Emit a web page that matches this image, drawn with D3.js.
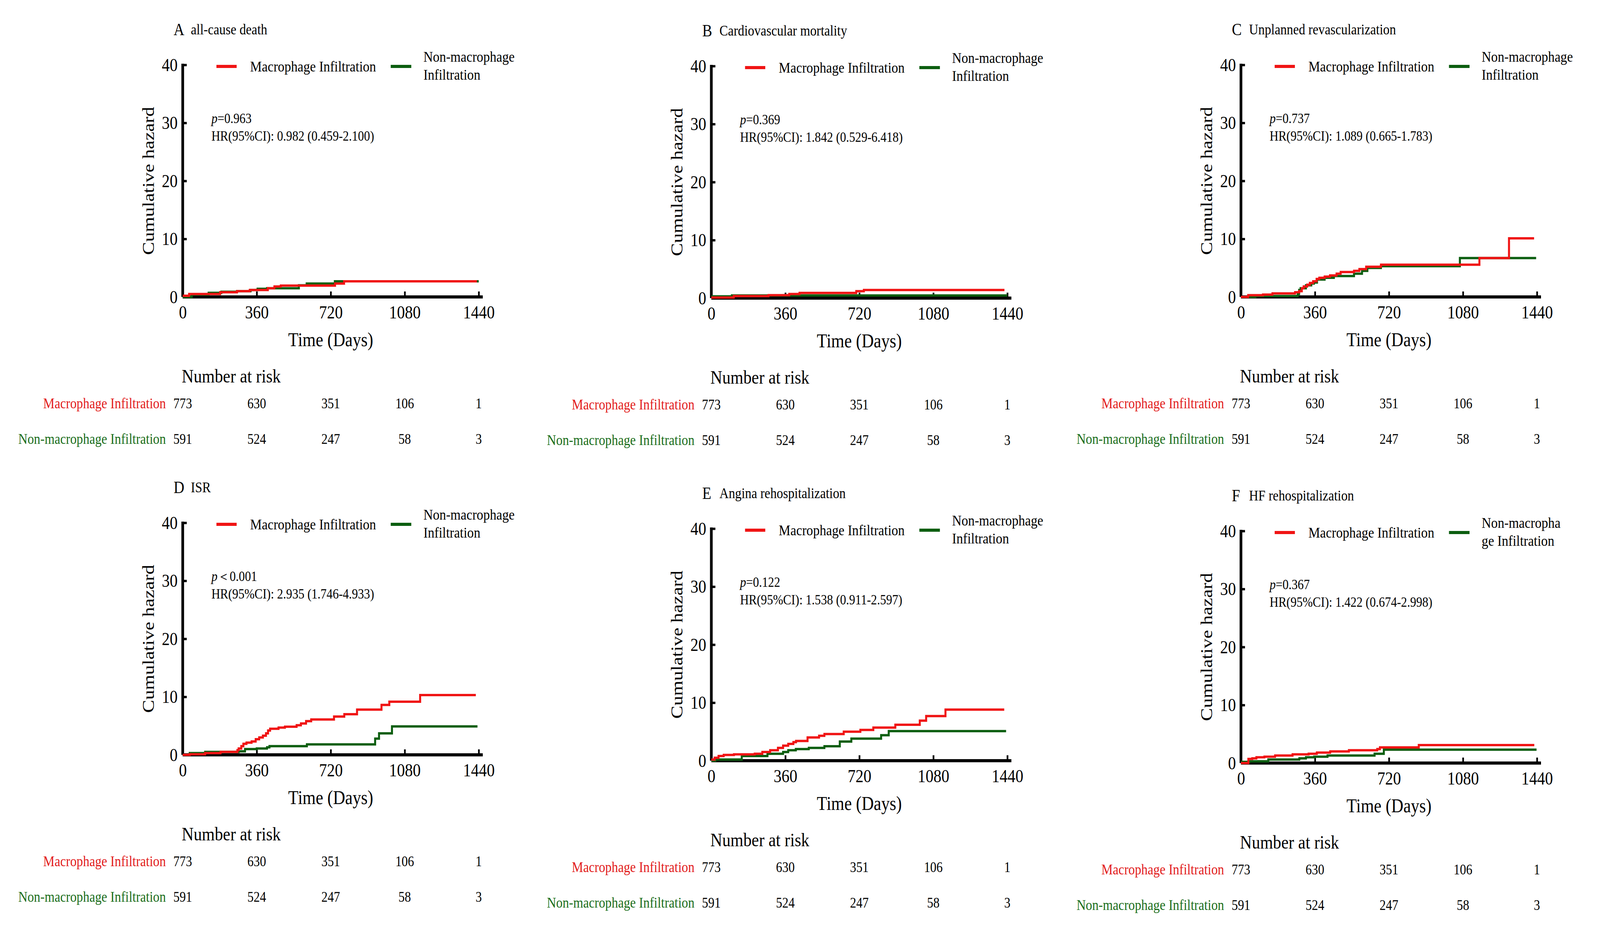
<!DOCTYPE html>
<html>
<head>
<meta charset="utf-8">
<script src="https://cdn.jsdelivr.net/npm/d3@7"></script>
<style>
  html, body { margin: 0; padding: 0; background: #fff; overflow: hidden; }
  svg { display: block; width: 100vw; height: 100vh; }
  text { font-family: "Liberation Serif", "Times New Roman", serif; }
</style>
</head>
<body>
<div id="chart"></div>
<script>
// tick labels and risk table
var xTicks = [0, 360, 720, 1080, 1440]
var yTicks = [0, 10, 20, 30, 40]
var riskMacro = [773, 630, 351, 106, 1]
var riskNonMacro = [591, 524, 247, 58, 3]

var letters = ['A', 'B', 'C', 'D', 'E', 'F']
var titles = ['all-cause death', 'Cardiovascular mortality', 'Unplanned revascularization',
    'ISR', 'Angina rehospitalization', 'HF rehospitalization']
var pTexts = ['=0.963', '=0.369', '=0.737', '\uFF1C0.001', '=0.122', '=0.367']
var hrTexts = ['HR(95%CI): 0.982 (0.459-2.100)', 'HR(95%CI): 1.842 (0.529-6.418)',
    'HR(95%CI): 1.089 (0.665-1.783)', 'HR(95%CI): 2.935 (1.746-4.933)',
    'HR(95%CI): 1.538 (0.911-2.597)', 'HR(95%CI): 1.422 (0.674-2.998)']
var nonLegendLines = [
    ['Non-macrophage', 'Infiltration'], ['Non-macrophage', 'Infiltration'],
    ['Non-macrophage', 'Infiltration'], ['Non-macrophage', 'Infiltration'],
    ['Non-macrophage', 'Infiltration'], ['Non-macropha', 'ge Infiltration']]

// step curves, [day, cumulative hazard]
var macroA = [[0,0.2],[31,0.5],[182,0.8],[264,1.0],[326,1.2],[414,1.5],[446,1.8],[477,1.95],[741,2.3],[785,2.7],[1431,2.7]]
var nonA = [[0,0],[44,0.4],[126,0.7],[188,0.9],[264,1.0],[330,1.2],[364,1.4],[410,1.5],[565,2.0],[603,2.3],[740,2.7],[1440,2.7]]

var macroB = [[0,0.1],[109,0.35],[278,0.5],[379,0.7],[429,0.9],[705,1.2],[742,1.4],[1426,1.4]]
var nonB = [[0,0.3],[100,0.45],[1440,0.45]]

var macroC = [[0,0],[35,0.3],[107,0.4],[153,0.6],[263,0.8],[283,1.0],[296,1.5],[305,1.8],[322,2.1],[335,2.4],[351,2.7],[368,3.1],[381,3.3],[407,3.5],[433,3.7],[465,4.0],[485,4.3],[550,4.5],[576,4.8],[609,5.2],[681,5.56],[1160,6.7],[1304,10.1],[1426,10.1]]
var nonC = [[0,0],[70,0.15],[276,0.5],[283,1.2],[290,1.5],[316,2.0],[342,2.3],[355,2.5],[370,3.0],[407,3.3],[452,3.6],[550,4.0],[589,4.5],[615,5.0],[681,5.3],[1065,6.7],[1436,6.7]]

var macroD = [[0,0],[34,0.1],[109,0.3],[184,0.5],[266,0.8],[272,1.1],[285,1.5],[295,1.9],[310,2.1],[335,2.3],[355,2.7],[372,3.0],[390,3.3],[405,3.7],[415,4.2],[425,4.5],[466,4.7],[497,4.85],[554,5.1],[575,5.4],[600,5.8],[625,6.1],[736,6.6],[786,7.0],[848,7.8],[967,8.6],[1005,9.15],[1155,10.3],[1426,10.3]]
var nonD = [[0,0],[34,0.3],[109,0.5],[272,0.6],[303,1.0],[360,1.1],[410,1.3],[422,1.5],[604,1.8],[936,2.8],[955,3.7],[1018,4.9],[1434,4.9]]

var macroE = [[0,0.2],[16,0.5],[35,0.8],[60,1.0],[110,1.1],[211,1.2],[248,1.5],[286,1.8],[324,2.2],[349,2.6],[374,2.9],[399,3.2],[412,3.4],[468,4.0],[524,4.3],[550,4.6],[644,5.0],[725,5.3],[788,5.7],[895,6.2],[1014,6.9],[1045,7.7],[1139,8.8],[1425,8.8]]
var nonE = [[0,0],[20,0.2],[148,0.8],[273,1.2],[349,1.5],[374,1.8],[411,2.0],[474,2.2],[550,2.5],[625,3.3],[681,3.8],[826,4.4],[863,5.1],[1434,5.1]]

var macroF = [[0,0],[36,0.7],[55,0.8],[75,1.0],[114,1.1],[166,1.3],[251,1.5],[329,1.6],[369,1.8],[434,2.0],[525,2.2],[663,2.4],[676,2.7],[865,3.1],[1427,3.1]]
var nonF = [[0,0.2],[40,0.3],[133,0.6],[284,0.8],[316,1.0],[356,1.1],[421,1.3],[650,1.6],[695,2.3],[1438,2.3]]

var macroSeries = [macroA, macroB, macroC, macroD, macroE, macroF]
var nonSeries = [nonA, nonB, nonC, nonD, nonE, nonF]

var RED = '#f01414'
var GREEN = '#0c5e10'
var RED_TEXT = '#e21c1c'
var GREEN_TEXT = '#1b6e1b'

var width = 4746, height = 2388
var plotW = 878, plotH = 594
// left edge of axis per column, top of axis per panel
var colX = [542, 2110, 3681]
var rowTop = [166, 169, 166, 1338, 1353, 1359]

// viewBox stretched over the whole window so the layout follows the reference frame
var svg = d3.select('#chart')
    .append('svg')
        .attr('viewBox', '0 0 ' + width + ' ' + height)
        .attr('preserveAspectRatio', 'none')

svg.append('rect').attr('width', width).attr('height', height).attr('fill', '#fff')

function drawPanel(i) {
    var g = svg.append('g')
        .attr('transform', 'translate(' + colX[i % 3] + ',' + rowTop[i] + ')')

    var x = d3.scaleLinear().domain([0, 1440]).range([0, plotW])
    var y = d3.scaleLinear().domain([0, 40]).range([plotH, 0])

    // title
    g.append('text')
        .attr('x', -27).attr('y', -76)
        .style('font-size', '44px')
        .text(letters[i])
    g.append('text')
        .attr('x', 24).attr('y', -78)
        .style('font-size', '38px')
        .text(titles[i])

    // x axis (ticks pointing inward)
    var xAxis = g.append('g')
        .attr('transform', 'translate(0,' + plotH + ')')
        .call(d3.axisBottom(x).tickValues(xTicks).tickFormat(d3.format('d'))
            .tickSize(-14).tickPadding(22).tickSizeOuter(0))
    xAxis.select('.domain').remove()
    xAxis.append('line')
        .attr('x1', 0).attr('x2', x(1440) + 12)
        .attr('stroke', '#000').attr('stroke-width', 8)
    xAxis.selectAll('.tick line').attr('stroke', '#000').attr('stroke-width', 5)
    xAxis.selectAll('.tick text')
        .attr('fill', '#000')
        .attr('dy', '0.71em')
        .style('font-size', '47px')
        .style('font-family', '"Liberation Serif", "Times New Roman", serif')

    // y axis (ticks pointing inward as well)
    var yAxis = g.append('g')
        .call(d3.axisLeft(y).tickValues(yTicks).tickSize(-12).tickPadding(15).tickSizeOuter(0))
    yAxis.select('.domain').remove()
    yAxis.append('line')
        .attr('y1', -3).attr('y2', plotH)
        .attr('stroke', '#000').attr('stroke-width', 8)
    yAxis.selectAll('.tick line').attr('stroke', '#000').attr('stroke-width', 6)
    yAxis.selectAll('.tick text')
        .attr('fill', '#000')
        .style('font-size', '47px')
        .style('font-family', '"Liberation Serif", "Times New Roman", serif')

    // axis titles
    g.append('text')
        .attr('transform', 'translate(-86,' + (plotH / 2) + ') rotate(-90)')
        .attr('text-anchor', 'middle')
        .style('font-size', '50px')
        .text('Cumulative hazard')
    g.append('text')
        .attr('x', plotW / 2).attr('y', plotH + 126)
        .attr('text-anchor', 'middle')
        .style('font-size', '50px')
        .text('Time (Days)')

    // curves
    var line = d3.line()
        .x(function(d) { return x(d[0]) })
        .y(function(d) { return y(d[1]) })
        .curve(d3.curveStepAfter)

    g.append('path')
        .datum(nonSeries[i])
        .attr('d', line)
        .attr('fill', 'none')
        .attr('stroke', GREEN)
        .attr('stroke-width', 6)
    g.append('path')
        .datum(macroSeries[i])
        .attr('d', line)
        .attr('fill', 'none')
        .attr('stroke', RED)
        .attr('stroke-width', 6)

    // legend
    g.append('line')
        .attr('x1', 100).attr('x2', 160).attr('y1', 4).attr('y2', 4)
        .attr('stroke', RED).attr('stroke-width', 8)
    g.append('text')
        .attr('x', 200).attr('y', 17)
        .style('font-size', '39px')
        .text('Macrophage Infiltration')
    g.append('line')
        .attr('x1', 617).attr('x2', 678).attr('y1', 4).attr('y2', 4)
        .attr('stroke', GREEN).attr('stroke-width', 8)
    g.selectAll('.nonleg')
        .data(nonLegendLines[i])
        .enter()
        .append('text')
        .attr('x', 714)
        .attr('y', function(d, k) { return -8 + k * 46 })
        .style('font-size', '39px')
        .text(function(d) { return d })

    // p value and HR
    var pText = g.append('text')
        .attr('x', 85).attr('y', 149)
        .style('font-size', '36px')
    pText.append('tspan').style('font-style', 'italic').text('p')
    pText.append('tspan').text(pTexts[i])
    g.append('text')
        .attr('x', 85).attr('y', 194)
        .style('font-size', '36px')
        .text(hrTexts[i])

    // number at risk table
    g.append('text')
        .attr('x', -3).attr('y', plotH + 219)
        .style('font-size', '49px')
        .text('Number at risk')
    g.append('text')
        .attr('x', -50).attr('y', plotH + 285)
        .attr('text-anchor', 'end')
        .attr('fill', RED_TEXT)
        .style('font-size', '38px')
        .text('Macrophage Infiltration')
    g.append('text')
        .attr('x', -50).attr('y', plotH + 376)
        .attr('text-anchor', 'end')
        .attr('fill', GREEN_TEXT)
        .style('font-size', '38px')
        .text('Non-macrophage Infiltration')
    g.selectAll('.riskM')
        .data(riskMacro)
        .enter()
        .append('text')
        .attr('x', function(d, k) { return x(xTicks[k]) })
        .attr('y', plotH + 285)
        .attr('text-anchor', 'middle')
        .style('font-size', '37px')
        .text(function(d) { return d })
    g.selectAll('.riskN')
        .data(riskNonMacro)
        .enter()
        .append('text')
        .attr('x', function(d, k) { return x(xTicks[k]) })
        .attr('y', plotH + 376)
        .attr('text-anchor', 'middle')
        .style('font-size', '37px')
        .text(function(d) { return d })
}

for (var i = 0; i < 6; i++) {
    drawPanel(i)
}
</script>
</body>
</html>
